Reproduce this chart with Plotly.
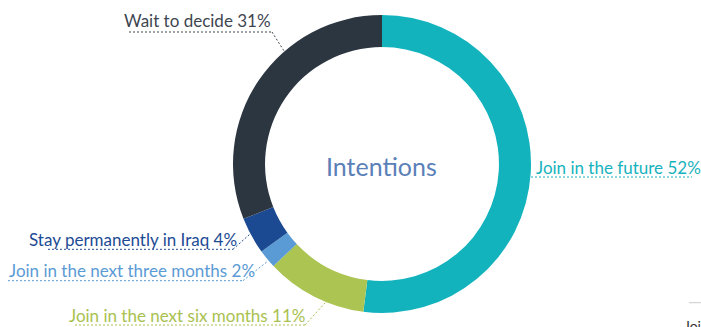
import math
import plotly.graph_objects as go

# Survey answers, in drawing order (clockwise from 12 o'clock)
categories = [
    "Join in the future",
    "Join in the next six months",
    "Join in the next three months",
    "Stay permanently in Iraq",
    "Wait to decide",
]
shares = [52, 11, 2, 4, 31]
colors = ["#13b3be", "#abc452", "#5b9bd5", "#1b4a93", "#2c3640"]
label_colors = ["#16b2bd", "#a9c150", "#5b9bd5", "#1d4b94", "#3e464f"]
center_title = "Intentions"

W, H = 701, 327
CX, CY, R = 382, 164, 149          # donut centre and outer radius (px)
HOLE = 0.785

# label placement: side, text anchor x, text baseline y, underline span, connector angle
label_layout = {
    "Join in the future":            dict(side="left",  x=535.5, base=173,   ux=(531, 692), uy=177,   ang=None),
    "Join in the next six months":   dict(side="right", x=305,   base=321.5, ux=(75, 305),  uy=325,   ang=202.3),
    "Join in the next three months": dict(side="right", x=255,   base=276.5, ux=(8, 243),   uy=280.7, ang=229.6),
    "Stay permanently in Iraq":      dict(side="right", x=237,   base=245,   ux=(48, 233),  uy=249.3, ang=242.0),
    "Wait to decide":                dict(side="right", x=271,   base=26,    ux=(129, 272), uy=32,    ang=319.1),
}
FONT = "Lato"
FS = 17


def px(x):
    return x / W


def py(y):
    return 1 - y / H


fig = go.Figure(
    go.Pie(
        labels=categories,
        values=shares,
        marker=dict(colors=colors, line=dict(width=0)),
        sort=False,
        direction="clockwise",
        rotation=0,
        hole=HOLE,
        textinfo="none",
        hoverinfo="label+percent",
        domain=dict(x=[px(CX - R), px(CX + R)], y=[py(CY + R), py(CY - R)]),
    )
)

annotations = [
    dict(text=center_title, x=px(CX), y=py(CY + 2), xref="paper", yref="paper",
         xanchor="center", yanchor="middle", showarrow=False,
         font=dict(family=FONT, size=25, color="#5b80b8")),
]
shapes = []

total = sum(shares)
cum = 0
for name, val, col in zip(categories, shares, label_colors):
    lay = label_layout[name]
    pct = round(100 * val / total)
    cum += val
    annotations.append(dict(
        text=f"{name} {pct}%", x=px(lay["x"]), y=py(lay["base"] - 6),
        xref="paper", yref="paper", xanchor=lay["side"], yanchor="middle",
        showarrow=False, borderpad=0, borderwidth=0,
        font=dict(family=FONT, size=FS, color=col),
    ))
    dash = dict(color=col, width=1, dash="2px,2px")
    x0, x1 = lay["ux"]
    shapes.append(dict(type="line", xref="paper", yref="paper",
                       x0=px(x0), x1=px(x1), y0=py(lay["uy"]), y1=py(lay["uy"]), line=dash))
    if lay["ang"] is not None:
        a = math.radians(lay["ang"])
        ex = CX + (R + 1) * math.sin(a)
        ey = CY - (R + 1) * math.cos(a)
        sx = x1 if lay["side"] == "right" else x0
        shapes.append(dict(type="line", xref="paper", yref="paper",
                           x0=px(sx), x1=px(ex), y0=py(lay["uy"]), y1=py(ey), line=dash))

# legend peeking in at the lower right corner
shapes.append(dict(type="line", xref="paper", yref="paper",
                   x0=px(689), x1=px(701), y0=py(302.7), y1=py(302.7),
                   line=dict(color="#cccccc", width=1)))
annotations.append(dict(text=categories[0], x=px(683), y=py(316), xref="paper", yref="paper",
                        xanchor="left", yanchor="top", showarrow=False, borderpad=0,
                        font=dict(family=FONT, size=14, color="#333333")))

fig.update_layout(
    width=W, height=H,
    margin=dict(l=0, r=0, t=0, b=0),
    paper_bgcolor="white", plot_bgcolor="white",
    showlegend=False,
    annotations=annotations,
    shapes=shapes,
    font=dict(family=FONT),
)

fig.write_html("out.html")
